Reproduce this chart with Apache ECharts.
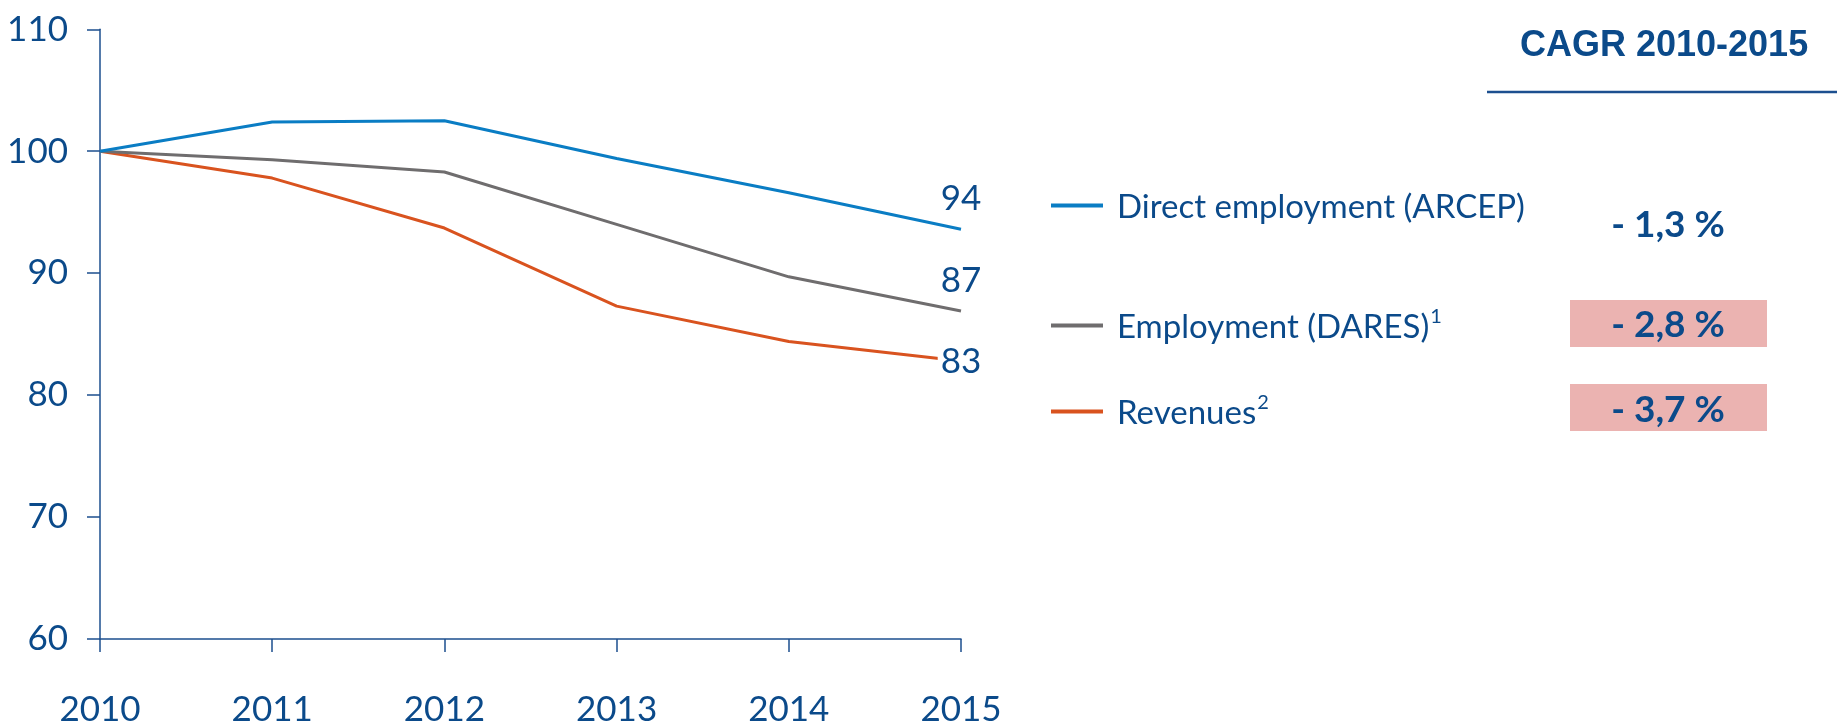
<!DOCTYPE html>
<html>
<head>
<meta charset="utf-8">
<script src="https://cdn.jsdelivr.net/npm/echarts@6/dist/echarts.min.js"></script>
<style>
  html, body { margin: 0; padding: 0; background: #ffffff; }
  #chart { width: 1837px; height: 727px; }
</style>
</head>
<body>
<div id="chart"></div>
<script>
// Index 2010 = 100
const years = ['2010', '2011', '2012', '2013', '2014', '2015'];
const directEmployment = [100, 102.4, 102.5, 99.4, 96.6, 93.6];
const employmentDares = [100, 99.3, 98.3, 94.0, 89.7, 86.9];
const revenues = [100, 97.8, 93.7, 87.3, 84.4, 82.8];

const seriesNames = ['Direct employment (ARCEP)', 'Employment (DARES)', 'Revenues'];
const footnoteMarks = ['', '1', '2'];

const cagrTitle = 'CAGR 2010-2015';
const cagrValues = ['- 1,3 %', '- 2,8 %', '- 3,7 %'];
const cagrHighlighted = [false, true, true];

const yMin = 60, yMax = 110, yStep = 10;

const NAVY = '#0b4a8a';
const AXIS = '#1c4f8f';
const COLORS = ['#0a7dc4', '#6f6d6e', '#d9531f'];
const PINK = '#ebb3b1';
const FONT = 'Lato, "Open Sans", sans-serif';

const chart = echarts.init(document.getElementById('chart'), null, { renderer: 'canvas' });

// Value label at the line end: above the line for the first two, on the line for the last one
function endLabel(i) {
  if (i < 2) {
    return { show: true, position: 'top', distance: 13, color: NAVY, fontFamily: FONT, fontSize: 35,
             formatter: p => Math.round(p.value) };
  }
  return { show: true, position: 'inside', offset: [0, 1], color: NAVY, fontFamily: FONT, fontSize: 35,
           backgroundColor: '#ffffff', padding: [0, 3],
           formatter: p => Math.round(p.value) };
}

function buildSeries(values, i) {
  return {
    name: seriesNames[i],
    type: 'line',
    color: COLORS[i],
    symbol: 'circle',
    symbolSize: 0,
    showSymbol: true,
    lineStyle: { width: 3, color: COLORS[i] },
    itemStyle: { color: COLORS[i] },
    emphasis: { disabled: true },
    silent: true,
    z: 3 - i,
    data: values.map((v, k) => k === values.length - 1 ? { value: v, label: endLabel(i) } : v)
  };
}

const legendCenters = [204, 324, 410];
const cagrCenters = [225, 325, 410];
const boxTops = [null, 300, 384];

const graphics = [
  { type: 'line', shape: { x1: 1487, y1: 92, x2: 1837, y2: 92 }, style: { stroke: AXIS, lineWidth: 2.5 } }
];
cagrValues.forEach((txt, i) => {
  if (cagrHighlighted[i]) {
    graphics.push({ type: 'rect', shape: { x: 1570, y: boxTops[i], width: 197, height: 47 }, style: { fill: PINK } });
  }
  graphics.push({
    type: 'text', x: 1668, y: cagrCenters[i],
    style: { text: txt, fill: NAVY, font: 'bold 37px ' + FONT, textAlign: 'center', textVerticalAlign: 'middle' }
  });
});

const option = {
  animation: false,
  backgroundColor: '#ffffff',
  title: {
    text: cagrTitle,
    left: 1520, top: 24, padding: 0,
    textStyle: { color: NAVY, fontFamily: '"Liberation Sans", Arial, sans-serif', fontWeight: 'bold', fontSize: 36, lineHeight: 44 }
  },
  grid: { left: 100, right: 876, top: 29.3, bottom: 84.7, containLabel: false },
  legend: seriesNames.map((name, i) => ({
    data: [name],
    orient: 'vertical',
    left: 1051,
    top: legendCenters[i] - 20,
    padding: 0,
    icon: 'rect',
    itemWidth: 52,
    itemHeight: 4,
    selectedMode: false,
    formatter: n => footnoteMarks[i] ? n + '{sup|' + footnoteMarks[i] + '}' : n,
    textStyle: {
      color: NAVY, fontFamily: FONT, fontSize: 33, lineHeight: 40,
      padding: [3, 0, 0, 9],
      rich: {
        sup: { color: NAVY, fontFamily: FONT, fontSize: 20, lineHeight: 40, verticalAlign: 'top', padding: [0, 0, 14, 1] }
      }
    }
  })),
  xAxis: {
    type: 'category',
    data: years,
    boundaryGap: false,
    axisLine: { show: true, lineStyle: { color: AXIS, width: 1.5 } },
    axisTick: { show: true, length: 13, alignWithLabel: true, lineStyle: { color: AXIS, width: 1.5 } },
    axisLabel: { color: NAVY, fontFamily: FONT, fontSize: 35, margin: 53 },
    splitLine: { show: false }
  },
  yAxis: {
    type: 'value',
    min: yMin, max: yMax, interval: yStep,
    axisLine: { show: true, lineStyle: { color: AXIS, width: 1.5 } },
    axisTick: { show: true, length: 13, lineStyle: { color: AXIS, width: 1.5 } },
    axisLabel: { color: NAVY, fontFamily: FONT, fontSize: 35, margin: 32 },
    splitLine: { show: false }
  },
  graphic: graphics,
  series: [directEmployment, employmentDares, revenues].map(buildSeries)
};

chart.setOption(option);
</script>
</body>
</html>
